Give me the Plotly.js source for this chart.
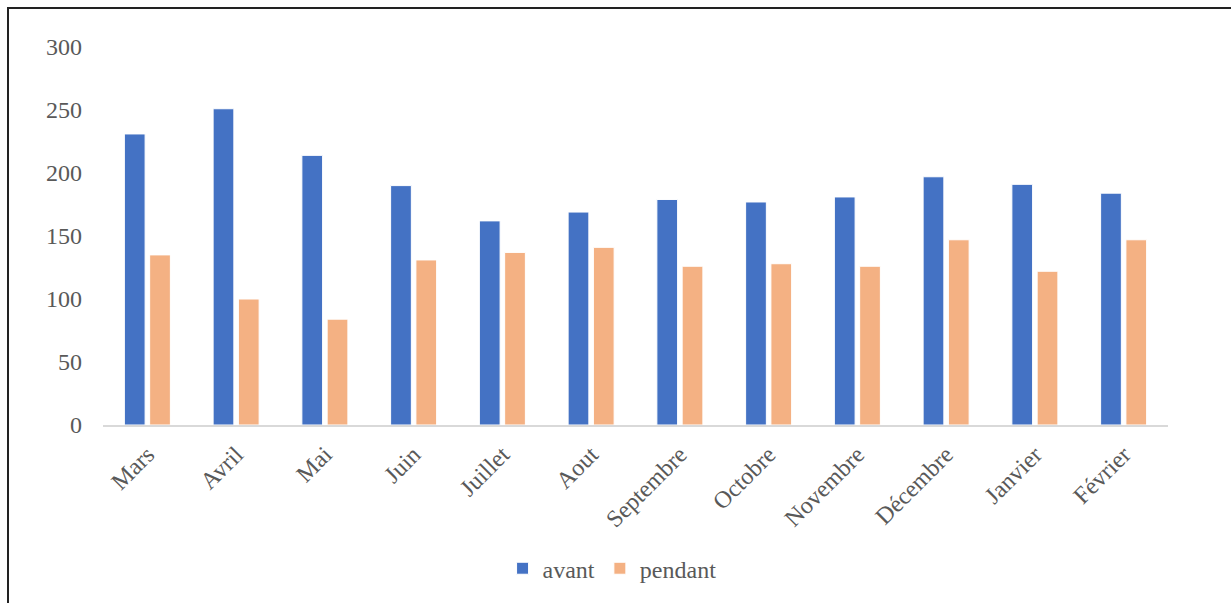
<!DOCTYPE html>
<html>
<head>
<meta charset="utf-8">
<script src="https://cdn.plot.ly/plotly-3.0.1.min.js"></script>
<style>
  html, body { margin: 0; padding: 0; background: #fff; }
  #chart { position: absolute; left: 0; top: 0; width: 1231px; height: 603px; }
  #frame { position: absolute; left: 7px; top: 7px; width: 1240px; height: 620px;
           border-left: 2px solid #222; border-top: 2px solid #222; pointer-events: none; }
</style>
</head>
<body>
<div id="chart"></div>
<div id="frame"></div>
<script>
const months = ["Mars","Avril","Mai","Juin","Juillet","Aout","Septembre","Octobre","Novembre","Décembre","Janvier","Février"];
const avant = [231, 251, 214, 190, 162, 169, 179, 177, 181, 197, 191, 184];
const pendant = [135, 100, 84, 131, 137, 141, 126, 128, 126, 147, 122, 147];
const yTicks = [0, 50, 100, 150, 200, 250, 300];

const font = {family: "'Liberation Serif', 'Times New Roman', serif", size: 24, color: "#595959"};

const traces = [
  {type: "bar", name: "avant", x: months, y: avant,
   marker: {color: "#4472C4", line: {color: "#ffffff", width: 1}}},
  {type: "bar", name: "pendant", x: months, y: pendant,
   marker: {color: "#F4B183", line: {color: "#ffffff", width: 1}}}
];

const layout = {
  width: 1231, height: 603,
  margin: {l: 103, r: 63, t: 47, b: 176},
  paper_bgcolor: "#fff", plot_bgcolor: "#fff",
  font: font,
  barmode: "group", bargap: 0.43, bargroupgap: 0.18,
  xaxis: {
    tickangle: -45, showline: true, linecolor: "#d9d9d9", linewidth: 2,
    ticks: "", showgrid: false, ticklabelstandoff: 4, tickfont: font
  },
  yaxis: {
    range: [0, 300], tickvals: yTicks, ticktext: yTicks.map(String),
    showgrid: false, zeroline: false, showline: false, ticks: "",
    ticklabelstandoff: 20, tickfont: font
  },
  showlegend: true,
  legend: {orientation: "h", x: 0.478, xanchor: "center", y: -0.38, yanchor: "middle",
           font: font, itemwidth: 30, traceorder: "normal"}
};

Plotly.newPlot("chart", traces, layout, {displayModeBar: false, staticPlot: true});
</script>
</body>
</html>
